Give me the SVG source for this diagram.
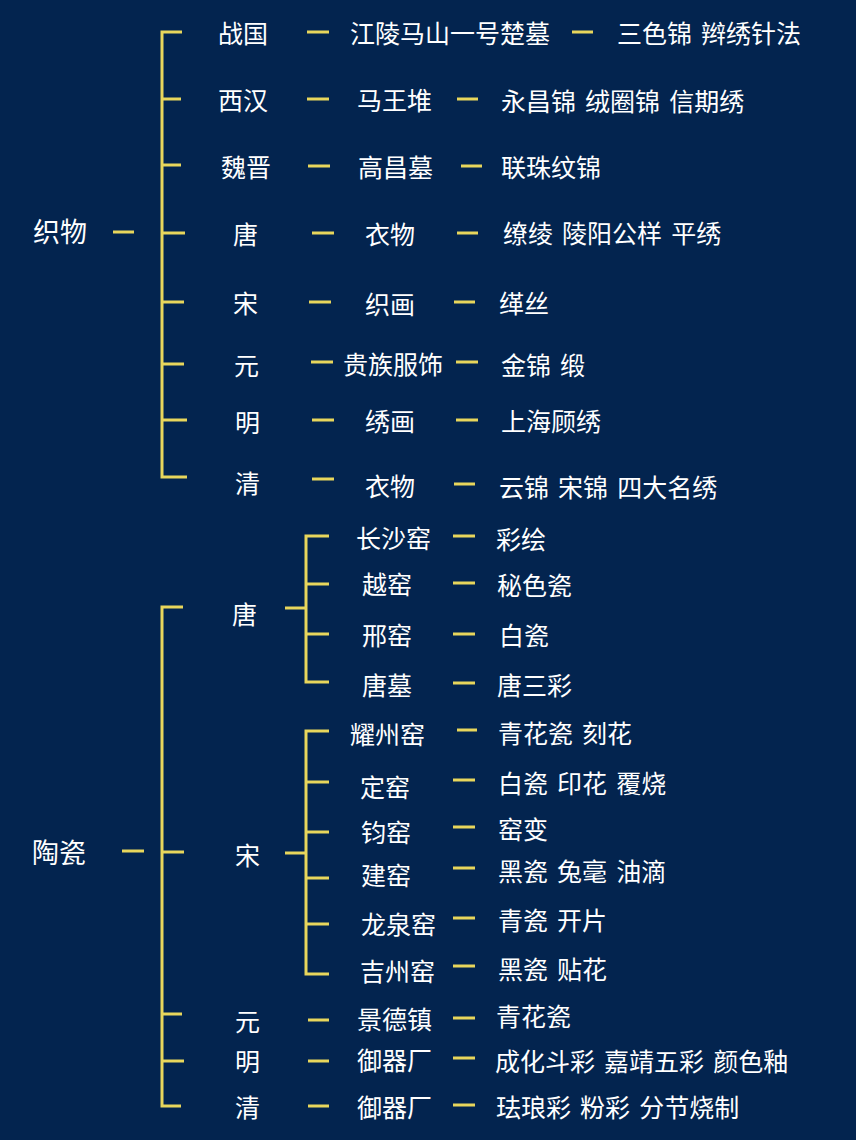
<svg xmlns="http://www.w3.org/2000/svg" width="856" height="1140" viewBox="0 0 856 1140">
<style>
.bg{fill:#03244f}
.c{stroke:#e8d65c;stroke-width:3;fill:none;stroke-linecap:butt}
text{fill:#ffffff;font-family:"Noto Sans CJK SC","Noto Sans",sans-serif;font-size:25px;word-spacing:3.5px}
.root{font-size:27px}
</style>
<rect class="bg" x="0" y="0" width="856" height="1140"/>
<g id="connectors">
<path class="c" d="M182,32H162V477H187M162,99H181M162,165H181M162,233H185M162,302H184M162,364H184M162,420H187"/>
<path class="c" d="M183,607H162V1106H181M162,852H184M162,1014H182M162,1061H184"/>
<path class="c" d="M285,608H306M329,536H306V682H329M306,584H329M306,634H329"/>
<path class="c" d="M285,853H306M329,731H306V974H329M306,782H329M306,832H329M306,878H329M306,924H329"/>
<path class="c" d="M113,232H134M122,851H144
M307,32H329M307,99H329M308,166H330M312,233H334M309,302H331M311,362H333M312,420H334M312,479H334
M572,32H593M457,99H478M461,166H482M457,233H478M454,302H475M456,362H478M456,420H478M454,484H475
M453,536H475M453,583H475M453,634H475M453,683H475
M457,730H477M453,780H475M453,827H475M453,868H475M453,918H475M453,966H475
M308,1020H329M308,1061H329M308,1106H329
M453,1018H475M453,1058H475M453,1105H475"/>
</g>
<g id="n-zhiwu"><text class="root" x="33" y="242">织物</text></g>
<g id="n-taoci"><text class="root" x="32" y="863">陶瓷</text></g>
<g id="n-zhanguo"><text x="218" y="42.5">战国</text></g>
<g id="n-xihan"><text x="218" y="109.5">西汉</text></g>
<g id="n-weijin"><text x="221" y="176.5">魏晋</text></g>
<g id="n-tang1"><text x="233" y="243.5">唐</text></g>
<g id="n-song1"><text x="233" y="312.5">宋</text></g>
<g id="n-yuan1"><text x="234" y="374.5">元</text></g>
<g id="n-ming1"><text x="235" y="431.5">明</text></g>
<g id="n-qing1"><text x="235" y="492.5">清</text></g>
<g id="n-jiangling"><text x="350" y="42.5">江陵马山一号楚墓</text></g>
<g id="n-mawangdui"><text x="357" y="109.5">马王堆</text></g>
<g id="n-gaochang"><text x="358" y="176.5">高昌墓</text></g>
<g id="n-yiwu1"><text x="365" y="243.5">衣物</text></g>
<g id="n-zhihua"><text x="365" y="313.5">织画</text></g>
<g id="n-guizu"><text x="343" y="373.5">贵族服饰</text></g>
<g id="n-xiuhua"><text x="365" y="430.5">绣画</text></g>
<g id="n-yiwu2"><text x="365" y="495.5">衣物</text></g>
<g id="n-l3-1"><text x="617" y="42.5">三色锦 辫绣针法</text></g>
<g id="n-l3-2"><text x="501" y="110.5">永昌锦 绒圈锦 信期绣</text></g>
<g id="n-l3-3"><text x="501" y="176.5">联珠纹锦</text></g>
<g id="n-l3-4"><text x="503" y="242.5">缭绫 陵阳公样 平绣</text></g>
<g id="n-l3-5"><text x="499" y="312.5">缂丝</text></g>
<g id="n-l3-6"><text x="501" y="374.5">金锦 缎</text></g>
<g id="n-l3-7"><text x="501" y="430.5">上海顾绣</text></g>
<g id="n-l3-8"><text x="499" y="496.5">云锦 宋锦 四大名绣</text></g>
<g id="n-tang2"><text x="232" y="623.5">唐</text></g>
<g id="n-song2"><text x="235" y="864.5">宋</text></g>
<g id="n-yuan2"><text x="235" y="1030.5">元</text></g>
<g id="n-ming2"><text x="235" y="1070.5">明</text></g>
<g id="n-qing2"><text x="235" y="1116.5">清</text></g>
<g id="n-changsha"><text x="356" y="547.5">长沙窑</text></g>
<g id="n-yueyao"><text x="362" y="593.5">越窑</text></g>
<g id="n-xingyao"><text x="362" y="644.5">邢窑</text></g>
<g id="n-tangmu"><text x="362" y="694.5">唐墓</text></g>
<g id="n-caihui"><text x="496" y="548.5">彩绘</text></g>
<g id="n-mise"><text x="497" y="594.5">秘色瓷</text></g>
<g id="n-baici1"><text x="499" y="644.5">白瓷</text></g>
<g id="n-tangsancai"><text x="497" y="694.5">唐三彩</text></g>
<g id="n-yaozhou"><text x="350" y="743.5">耀州窑</text></g>
<g id="n-dingyao"><text x="360" y="796.5">定窑</text></g>
<g id="n-junyao"><text x="361" y="841.5">钧窑</text></g>
<g id="n-jianyao"><text x="361" y="884.5">建窑</text></g>
<g id="n-longquan"><text x="361" y="933.5">龙泉窑</text></g>
<g id="n-jizhou"><text x="360" y="980.5">吉州窑</text></g>
<g id="n-s1"><text x="498" y="742.5">青花瓷 刻花</text></g>
<g id="n-s2"><text x="498" y="792.5">白瓷 印花 覆烧</text></g>
<g id="n-s3"><text x="498" y="838.5">窑变</text></g>
<g id="n-s4"><text x="498" y="880.5">黑瓷 兔毫 油滴</text></g>
<g id="n-s5"><text x="498" y="929.5">青瓷 开片</text></g>
<g id="n-s6"><text x="498" y="978.5">黑瓷 贴花</text></g>
<g id="n-jingdezhen"><text x="357" y="1028.5">景德镇</text></g>
<g id="n-yuqi1"><text x="357" y="1069.5">御器厂</text></g>
<g id="n-yuqi2"><text x="357" y="1116.5">御器厂</text></g>
<g id="n-y1"><text x="496" y="1025.5">青花瓷</text></g>
<g id="n-m1"><text x="495" y="1070.5">成化斗彩 嘉靖五彩 颜色釉</text></g>
<g id="n-q1"><text x="496" y="1116.5">珐琅彩 粉彩 分节烧制</text></g>
</svg>
